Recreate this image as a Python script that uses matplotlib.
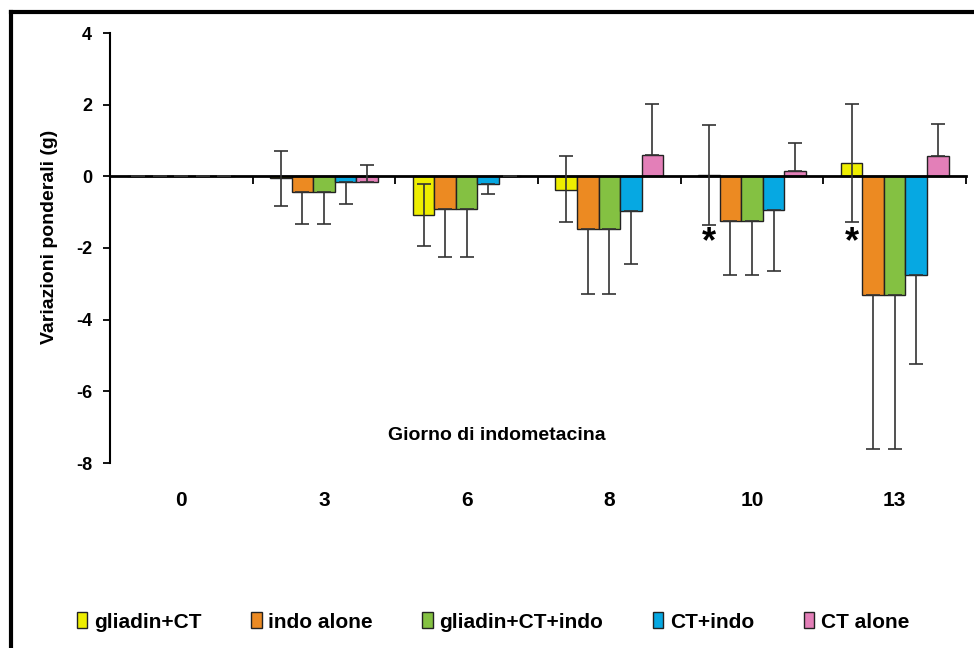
import matplotlib.pyplot as plt
import numpy as np
from matplotlib.lines import Line2D
from matplotlib.patches import Patch

# data
days = ["0", "3", "6", "8", "10", "13"]
series = ["gliadin+CT", "indo alone", "gliadin+CT+indo", "CT+indo", "CT alone"]
colors = ["#eeee00", "#ec8a22", "#84c142", "#06a8e2", "#e37fb8"]

gliadin_ct = [0, -0.05, -1.07, -0.37, 0.03, 0.38]
indo_alone = [0, -0.43, -0.91, -1.47, -1.25, -3.31]
gliadin_ct_indo = [0, -0.43, -0.91, -1.47, -1.25, -3.31]
ct_indo = [0, -0.16, -0.20, -0.98, -0.94, -2.76]
ct_alone = [0, -0.15, 0, 0.60, 0.15, 0.56]

# error bars (lower, upper) as drawn
err_lo = [[0, 0.79, 0.88, 0.91, 1.39, 1.66],
          [0, 0.90, 1.33, 1.80, 1.50, 4.30],
          [0, 0.90, 1.33, 1.80, 1.50, 4.30],
          [0, 0.60, 0.30, 1.47, 1.70, 2.47],
          [0, 0, 0, 0, 0, 0]]
err_hi = [[0, 0.76, 0.87, 0.93, 1.40, 1.64],
          [0, 0, 0, 0, 0, 0],
          [0, 0, 0, 0, 0, 0],
          [0, 0, 0, 0, 0, 0],
          [0, 0.48, 0, 1.43, 0.78, 0.90]]

# significance stars (day index, y)
star_days = [4, 5]
star_y = [-1.85, -1.85]

values = [gliadin_ct, indo_alone, gliadin_ct_indo, ct_indo, ct_alone]

plt.rcParams['font.family'] = ['Liberation Sans', 'DejaVu Sans']
plt.rcParams['font.weight'] = 'bold'
plt.rcParams['axes.unicode_minus'] = False

fig = plt.figure(figsize=(9.74, 6.48), dpi=100)
ax = fig.add_axes([110 / 974, 1 - 463 / 648, 856 / 974, 430 / 648])

x = np.arange(len(days))
w = 0.151
for i, (vals, c) in enumerate(zip(values, colors)):
    pos = x + (i - 2) * w
    ax.bar(pos, vals, w, color=c, edgecolor="#222222", linewidth=1, zorder=2)
    ax.errorbar(pos, vals, yerr=[err_lo[i], err_hi[i]], fmt='none',
                ecolor="#333333", elinewidth=1.2, capsize=5, capthick=1.2, zorder=3)

for d, yv in zip(star_days, star_y):
    ax.text(d - 2 * w, yv, "*", fontsize=26, ha='center', va='center', fontweight='bold')

ax.set_xlim(-0.5, 5.5)
ax.set_ylim(-8, 4)
ax.set_yticks(range(-8, 5, 2))
ax.tick_params(axis='y', length=5, width=1.3, labelsize=13, pad=8)
for sp in ['top', 'right']:
    ax.spines[sp].set_visible(False)
ax.spines['left'].set_linewidth(1.5)
ax.spines['bottom'].set_position(('data', 0))
ax.spines['bottom'].set_linewidth(2)
ax.set_xticks([])
ax.set_xticks(np.arange(-0.5, 6, 1), minor=True)
ax.tick_params(axis='x', which='minor', length=6, width=1.3, direction='out')
for i, lab in enumerate(days):
    ax.text(i, -9.05, lab, ha='center', va='center', fontsize=15, fontweight='bold', clip_on=False)
ax.text(2.21, -7.23, "Giorno di indometacina", ha='center', va='center', fontsize=14, fontweight='bold')
fig.text(50 / 974, 1 - 237 / 648, "Variazioni ponderali (g)", rotation=90,
         ha='center', va='center', fontsize=14, fontweight='bold')

handles = [Patch(facecolor=c, edgecolor="#222222") for c in colors]
fig.legend(handles, series, loc='center', bbox_to_anchor=(493 / 974, 1 - 622 / 648), ncol=5,
           frameon=False, prop={'family': ['Liberation Sans Narrow', 'Liberation Sans'], 'weight': 'bold', 'size': 15},
           handlelength=0.5, handleheight=0.8, handletextpad=0.3, columnspacing=2.4)

# outer frame
fig.add_artist(Line2D([11 / 974, 11 / 974], [0, 1 - 12 / 648], transform=fig.transFigure, color='black', lw=3))
fig.add_artist(Line2D([11 / 974, 1], [1 - 12 / 648, 1 - 12 / 648], transform=fig.transFigure, color='black', lw=3))

fig.savefig("out.png", dpi=100)
